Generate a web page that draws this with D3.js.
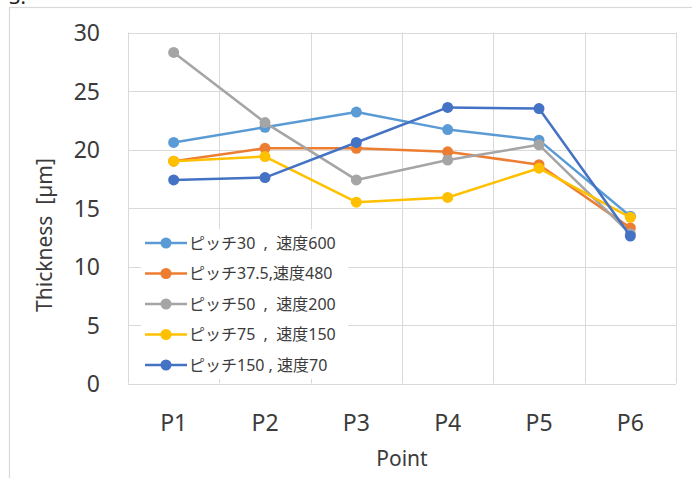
<!DOCTYPE html>
<html>
<head>
<meta charset="utf-8">
<script src="https://cdn.jsdelivr.net/npm/d3@7"></script>
<style>
  html, body { margin: 0; padding: 0; background: #fff; }
  svg { display: block; }
</style>
</head>
<body>
<svg id="chart" width="692" height="478"></svg>
<script>
// Measurement points along the sample
const categories = ["P1", "P2", "P3", "P4", "P5", "P6"];

// Coating thickness (µm) per condition
const seriesNames = [
  "ピッチ30  ,  速度600",
  "ピッチ37.5,速度480",
  "ピッチ50  ,  速度200",
  "ピッチ75  ,  速度150",
  "ピッチ150 , 速度70"
];
const pitch30 = [20.6, 21.9, 23.2, 21.7, 20.8, 14.3];
const pitch375 = [19.0, 20.1, 20.1, 19.8, 18.7, 13.3];
const pitch50 = [28.3, 22.3, 17.4, 19.1, 20.4, 12.8];
const pitch75 = [19.0, 19.4, 15.5, 15.9, 18.4, 14.2];
const pitch150 = [17.4, 17.6, 20.6, 23.6, 23.5, 12.6];
const seriesValues = [pitch30, pitch375, pitch50, pitch75, pitch150];
const seriesColors = ["#5B9BD5", "#ED7D31", "#A5A5A5", "#FFC000", "#4472C4"];

const yTicks = [0, 5, 10, 15, 20, 25, 30];

const svg = d3.select("#chart");
const plot = { left: 128, right: 676, top: 32.5, bottom: 383.5 };
const gridColor = "#d9d9d9";
const textColor = "#3b3b3b";

// heading fragment above the chart frame
svg.append("text")
  .attr("x", 9).attr("y", 4)
  .attr("font-family", "Noto Sans, sans-serif")
  .attr("font-size", 20)
  .attr("fill", "#222")
  .text("3.");

// chart frame
svg.append("rect")
  .attr("x", 9.5).attr("y", 7.5)
  .attr("width", 700).attr("height", 500)
  .attr("fill", "none")
  .attr("stroke", gridColor)
  .attr("stroke-width", 1.2);

const x = d3.scaleBand().domain(categories).range([plot.left, plot.right]);
const y = d3.scaleLinear().domain([0, 30]).range([plot.bottom, plot.top]);
const cx = c => x(c) + x.bandwidth() / 2;

// horizontal gridlines
svg.append("g")
  .selectAll("line")
  .data(yTicks)
  .join("line")
  .attr("x1", plot.left).attr("x2", plot.right)
  .attr("y1", d => Math.round(y(d)) + 0.5)
  .attr("y2", d => Math.round(y(d)) + 0.5)
  .attr("stroke", gridColor)
  .attr("stroke-width", 1);

// vertical gridlines on category boundaries
const boundaries = categories.map(c => x(c)).concat([plot.right]);
svg.append("g")
  .selectAll("line")
  .data(boundaries)
  .join("line")
  .attr("x1", d => Math.round(d) + 0.5)
  .attr("x2", d => Math.round(d) + 0.5)
  .attr("y1", plot.top)
  .attr("y2", plot.bottom)
  .attr("stroke", gridColor)
  .attr("stroke-width", 1);

// y axis labels
const yAxis = d3.axisLeft(y).tickValues(yTicks).tickSize(0).tickPadding(0);
const yG = svg.append("g")
  .attr("transform", "translate(100,0)")
  .call(yAxis);
yG.select(".domain").remove();
yG.selectAll("text")
  .attr("font-family", "Noto Sans, sans-serif")
  .attr("font-size", 23)
  .attr("fill", textColor)
  .attr("dy", "0.36em");

// x axis labels
const xAxis = d3.axisBottom(x).tickSize(0).tickPadding(0);
const xG = svg.append("g")
  .attr("transform", "translate(0,414)")
  .call(xAxis);
xG.select(".domain").remove();
xG.selectAll("text")
  .attr("font-family", "Noto Sans, sans-serif")
  .attr("font-size", 23)
  .attr("fill", textColor)
  .attr("dy", "0.72em");

// axis titles
svg.append("text")
  .attr("x", (plot.left + plot.right) / 2)
  .attr("y", 466)
  .attr("text-anchor", "middle")
  .attr("font-family", "Noto Sans, sans-serif")
  .attr("font-size", 21)
  .attr("fill", textColor)
  .text("Point");

svg.append("text")
  .attr("transform", "translate(52,235) rotate(-90)")
  .attr("text-anchor", "middle")
  .attr("font-family", "Noto Sans, sans-serif")
  .attr("font-size", 21)
  .attr("fill", textColor)
  .attr("xml:space", "preserve")
  .text("Thickness  [µm]");

// series lines and markers
const line = d3.line()
  .x((d, i) => cx(categories[i]))
  .y(d => y(d));

seriesValues.forEach((vals, s) => {
  const g = svg.append("g");
  g.append("path")
    .datum(vals)
    .attr("d", line)
    .attr("fill", "none")
    .attr("stroke", seriesColors[s])
    .attr("stroke-width", 2.5)
    .attr("stroke-linejoin", "round");
  g.selectAll("circle")
    .data(vals)
    .join("circle")
    .attr("cx", (d, i) => cx(categories[i]))
    .attr("cy", d => y(d))
    .attr("r", 5.5)
    .attr("fill", seriesColors[s]);
});

// legend
const legend = svg.append("g");
legend.append("rect")
  .attr("x", 141).attr("y", 229)
  .attr("width", 207).attr("height", 150)
  .attr("fill", "#fff");

const rowY = i => 243 + i * 30.5;
seriesNames.forEach((name, i) => {
  const row = legend.append("g").attr("transform", `translate(0,${rowY(i)})`);
  row.append("line")
    .attr("x1", 145).attr("x2", 187)
    .attr("stroke", seriesColors[i])
    .attr("stroke-width", 2.5);
  row.append("circle")
    .attr("cx", 166).attr("r", 5.5)
    .attr("fill", seriesColors[i]);
  row.append("text")
    .attr("x", 189)
    .attr("dy", "0.36em")
    .attr("font-family", "Noto Sans, Noto Sans CJK JP, sans-serif")
    .attr("font-size", 16)
    .attr("fill", textColor)
    .attr("xml:space", "preserve")
    .text(name);
});
</script>
</body>
</html>
